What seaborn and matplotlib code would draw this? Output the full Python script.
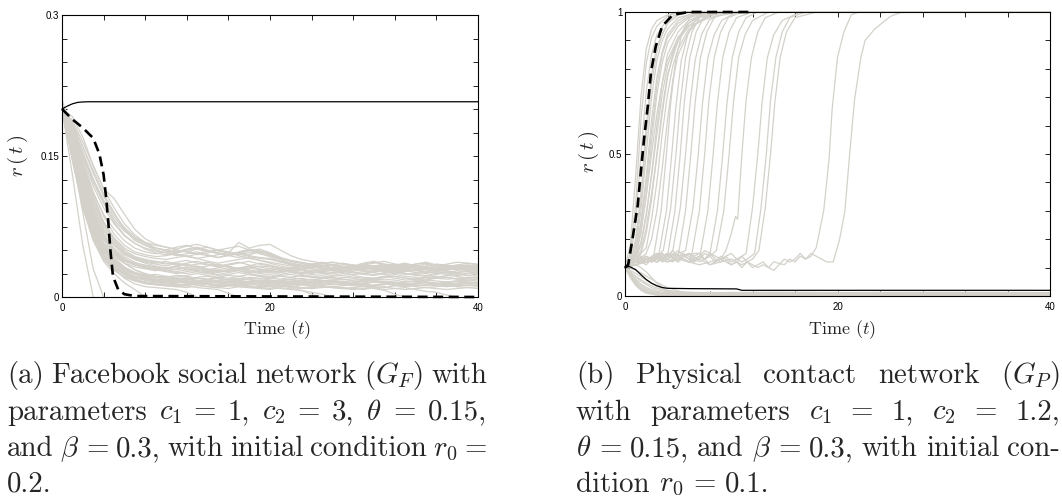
import matplotlib
matplotlib.use('Agg')
import matplotlib.pyplot as plt
import numpy as np
import pandas as pd
import seaborn as sns

GRAY = '#d3d1c9'
W, H = 1062, 497
CAP_SIZE = 20.8

# (a) Facebook network: simulation runs, r(t) in thousandths at t = 0, 1, 2, ... 40
FB_RUNS = [
    [200, 130, 55, 0],
    [200, 150, 90, 30, 0],
    [200, 185, 160, 135, 110, 90, 72, 60, 55, 52, 50, 53, 55, 51, 48, 50, 52, 54, 50, 47,
     45, 40, 35, 33, 34, 36, 33, 31, 32, 35, 37, 34, 32, 33, 35, 36, 34, 31, 30, 32, 33],
    [205, 178, 148, 118, 95, 78, 65, 57, 52, 49, 47, 50, 48, 45, 47, 50, 48, 46, 49, 51,
     47, 42, 38, 36, 33, 31, 30, 32, 34, 31, 29, 30, 32, 35, 33, 30, 28, 29, 31, 30, 28],
    [200, 182, 152, 122, 100, 82, 70, 62, 58, 55, 53, 51, 54, 56, 53, 49, 47, 58, 52, 55,
     56, 50, 44, 40, 38, 36, 37, 35, 33, 34, 36, 38, 35, 33, 31, 30, 33, 35, 37, 36, 34],
    [210, 175, 140, 110, 88, 72, 60, 52, 48, 46, 48, 45, 43, 46, 49, 47, 44, 42, 45, 48,
     44, 40, 36, 34, 33, 31, 29, 28, 30, 32, 31, 29, 27, 28, 30, 32, 30, 28, 26, 27, 29],
    [200, 188, 165, 140, 115, 95, 78, 66, 58, 52, 49, 47, 50, 52, 49, 46, 44, 47, 50, 46,
     43, 38, 34, 33, 35, 37, 34, 32, 33, 31, 30, 32, 34, 36, 33, 31, 32, 34, 31, 29, 30],
    [205, 180, 150, 125, 103, 85, 72, 62, 55, 50, 47, 44, 46, 48, 45, 42, 44, 46, 43, 41,
     40, 37, 35, 33, 31, 32, 34, 33, 30, 29, 31, 33, 35, 33, 31, 29, 30, 32, 34, 32, 30],
    [200, 192, 170, 140, 115, 105, 88, 72, 62, 56, 53, 50, 48, 51, 53, 50, 47, 45, 47, 49,
     46, 42, 39, 37, 35, 33, 34, 36, 34, 32, 30, 31, 33, 35, 34, 32, 30, 31, 33, 34, 32],
    [200, 170, 130, 95, 70, 55, 45, 40, 37, 35, 33, 36, 34, 31, 33, 35, 32, 30, 33, 36,
     34, 31, 29, 30, 32, 30, 28, 27, 29, 31, 33, 31, 29, 27, 28, 30, 29, 27, 26, 28, 27],
    [200, 165, 120, 85, 62, 48, 40, 36, 34, 32, 30, 33, 35, 32, 29, 27, 29, 31, 33, 30,
     28, 27, 29, 30, 28, 26, 25, 27, 29, 28, 26, 24, 25, 27, 29, 27, 25, 26, 28, 27, 25],
    [205, 172, 135, 100, 75, 58, 47, 41, 38, 36, 38, 35, 33, 35, 37, 34, 32, 30, 31, 33,
     32, 30, 31, 33, 35, 33, 30, 31, 33, 36, 38, 35, 32, 33, 35, 37, 34, 32, 34, 36, 35],
    [200, 160, 115, 80, 58, 45, 38, 34, 32, 30, 28, 30, 32, 29, 27, 29, 31, 28, 26, 28,
     30, 29, 27, 25, 27, 29, 31, 28, 26, 25, 27, 29, 30, 28, 26, 25, 27, 26, 24, 25, 26],
    [200, 175, 142, 108, 80, 62, 50, 43, 40, 38, 36, 34, 36, 38, 35, 33, 35, 37, 34, 32,
     30, 29, 31, 33, 30, 28, 29, 31, 30, 28, 27, 29, 31, 33, 31, 29, 28, 30, 32, 31, 30],
    [200, 168, 128, 92, 67, 52, 43, 37, 33, 31, 29, 27, 29, 31, 28, 26, 28, 30, 27, 25,
     24, 26, 28, 26, 24, 23, 25, 27, 26, 24, 23, 25, 27, 25, 23, 22, 24, 26, 25, 23, 22],
    [200, 158, 110, 76, 55, 43, 36, 32, 30, 28, 30, 32, 29, 27, 25, 27, 29, 31, 29, 27,
     26, 28, 30, 28, 26, 27, 29, 31, 34, 32, 29, 27, 28, 30, 28, 26, 27, 29, 32, 34, 33],
    [205, 178, 140, 105, 80, 63, 52, 46, 43, 41, 40, 42, 44, 41, 38, 36, 38, 40, 42, 39,
     36, 33, 31, 30, 32, 34, 31, 29, 31, 33, 32, 30, 28, 30, 33, 35, 32, 30, 29, 31, 32],
    [200, 150, 100, 65, 45, 33, 26, 22, 20, 19, 18, 20, 19, 17, 16, 18, 19, 17, 16, 15,
     17, 18, 16, 15, 14, 16, 17, 15, 14, 15, 16, 15, 14, 13, 15, 16, 14, 13, 14, 15, 14],
    [200, 160, 110, 72, 48, 35, 27, 22, 19, 17, 16, 15, 17, 16, 14, 13, 15, 16, 14, 13,
     12, 14, 15, 13, 12, 13, 14, 13, 12, 11, 13, 14, 12, 11, 12, 13, 12, 11, 12, 13, 12],
    [200, 155, 105, 70, 50, 38, 30, 25, 22, 21, 22, 20, 19, 21, 22, 20, 18, 19, 21, 20,
     18, 17, 19, 20, 18, 17, 18, 19, 17, 16, 18, 19, 18, 16, 17, 18, 17, 16, 17, 18, 17],
    [205, 162, 115, 78, 55, 40, 31, 25, 21, 18, 17, 16, 15, 17, 18, 16, 15, 14, 16, 17,
     15, 14, 13, 15, 16, 14, 13, 14, 15, 14, 12, 13, 15, 14, 13, 12, 14, 15, 13, 12, 13],
    [200, 145, 95, 62, 42, 30, 24, 20, 18, 17, 16, 18, 17, 15, 14, 16, 17, 16, 14, 13,
     15, 16, 14, 13, 15, 17, 16, 14, 13, 14, 16, 15, 13, 12, 14, 15, 14, 12, 13, 15, 14],
    [200, 158, 108, 73, 52, 39, 31, 26, 23, 22, 21, 23, 22, 20, 19, 21, 23, 22, 20, 19,
     20, 22, 21, 19, 18, 20, 21, 19, 18, 19, 20, 22, 20, 18, 19, 21, 20, 19, 20, 21, 20],
    [200, 166, 120, 82, 57, 42, 32, 26, 22, 19, 17, 16, 15, 14, 16, 15, 13, 12, 14, 15,
     13, 12, 11, 13, 14, 12, 11, 12, 13, 12, 11, 10, 12, 13, 11, 10, 11, 12, 11, 10, 11],
    [200, 152, 102, 68, 47, 36, 29, 25, 23, 24, 22, 21, 23, 25, 23, 21, 20, 22, 24, 22,
     20, 19, 21, 23, 22, 20, 19, 21, 20, 18, 19, 21, 22, 20, 19, 18, 20, 21, 19, 18, 19],
    [205, 170, 125, 88, 62, 46, 36, 29, 25, 22, 20, 19, 18, 20, 19, 17, 16, 18, 19, 17,
     16, 15, 17, 18, 16, 15, 16, 17, 15, 14, 16, 17, 16, 14, 15, 16, 15, 14, 15, 16, 15],
    [200, 148, 98, 64, 44, 32, 25, 21, 19, 18, 20, 19, 17, 16, 18, 20, 18, 16, 15, 17,
     18, 16, 15, 17, 19, 18, 16, 15, 16, 18, 17, 15, 14, 16, 17, 16, 14, 15, 17, 16, 15],
    [200, 176, 138, 102, 78, 60, 48, 42, 39, 37, 35, 37, 39, 36, 34, 32, 34, 36, 38, 35,
     33, 31, 30, 32, 30, 28, 30, 32, 29, 27, 28, 30, 32, 31, 29, 27, 29, 31, 30, 28, 29],
    [205, 168, 125, 90, 66, 50, 41, 35, 31, 29, 27, 25, 27, 29, 26, 24, 26, 28, 25, 23,
     22, 24, 26, 24, 22, 21, 23, 25, 23, 21, 20, 22, 24, 22, 21, 19, 21, 23, 22, 20, 21],
    [200, 180, 145, 112, 86, 67, 55, 48, 45, 43, 44, 46, 43, 41, 43, 45, 47, 44, 41, 39,
     37, 35, 33, 32, 34, 33, 31, 30, 32, 34, 33, 31, 30, 31, 33, 32, 30, 29, 31, 33, 32],
    [200, 162, 112, 75, 52, 39, 31, 26, 23, 21, 20, 19, 21, 20, 18, 17, 19, 20, 18, 17,
     16, 18, 19, 17, 16, 17, 18, 16, 15, 17, 18, 16, 15, 16, 17, 15, 14, 16, 17, 15, 16],
    [200, 172, 133, 97, 72, 56, 46, 40, 36, 33, 31, 29, 31, 33, 30, 28, 27, 29, 31, 29,
     27, 26, 28, 29, 27, 25, 26, 28, 27, 25, 24, 26, 27, 25, 24, 23, 25, 26, 24, 23, 24],
    [205, 183, 155, 126, 100, 80, 66, 57, 51, 47, 45, 47, 49, 46, 44, 42, 45, 47, 44, 42,
     41, 38, 36, 34, 32, 33, 35, 32, 30, 31, 33, 34, 32, 30, 29, 31, 33, 32, 30, 29, 31],
    [200, 154, 104, 70, 49, 37, 29, 24, 21, 19, 18, 17, 19, 18, 16, 15, 17, 18, 16, 15,
     14, 16, 17, 15, 14, 13, 15, 16, 14, 13, 12, 14, 15, 13, 12, 13, 14, 12, 11, 13, 12],
    [200, 166, 124, 88, 64, 49, 40, 35, 32, 30, 31, 33, 30, 28, 29, 31, 33, 30, 28, 26,
     28, 30, 28, 26, 25, 27, 28, 26, 24, 25, 27, 28, 26, 24, 25, 27, 26, 24, 23, 25, 26],
    [200, 146, 96, 63, 43, 31, 24, 19, 16, 14, 13, 12, 14, 13, 11, 10, 12, 13, 11, 10,
     9, 11, 12, 10, 9, 10, 11, 10, 9, 8, 10, 11, 9, 8, 9, 10, 9, 8, 9, 10, 9],
    [205, 186, 160, 132, 107, 88, 74, 64, 57, 52, 50, 48, 51, 53, 50, 47, 45, 48, 51, 49,
     46, 41, 38, 36, 34, 35, 37, 35, 32, 31, 33, 35, 34, 32, 31, 33, 35, 34, 32, 31, 33],
    [200, 160, 118, 84, 61, 47, 39, 34, 31, 29, 28, 26, 25, 27, 25, 23, 24, 26, 24, 22,
     21, 23, 24, 22, 21, 20, 22, 23, 21, 20, 19, 21, 22, 20, 19, 21, 22, 21, 19, 20, 21],
    [200, 150, 95, 60, 38, 25, 15, 8, 0],
    [200, 158, 105, 68, 45, 30, 20, 14, 11, 10, 9, 8, 5, 0],
    [200, 162, 112, 75, 50, 34, 24, 18, 15, 13, 12, 11, 12, 10, 9, 8, 4, 0],
    [200, 172, 128, 90, 64, 47, 36, 29, 24, 21, 19, 18, 16, 15, 14, 13, 12, 11, 10, 12,
     11, 9, 8, 7, 5, 3, 0],
    [200, 155, 100, 64, 42, 29, 21, 17, 14, 13, 12, 11, 10, 12, 11, 10, 9, 11, 10, 9,
     8, 10, 9, 7, 3, 0],
    [200, 165, 118, 80, 55, 38, 28, 22, 18, 16, 15, 14, 13, 15, 14, 12, 13, 14, 12, 11,
     12, 13, 11, 10, 11, 12, 10, 9, 10, 11, 9, 7, 3, 0],
    [200, 148, 98, 62, 40, 28, 22, 18, 16, 15, 14, 13, 12, 14, 13, 11, 12, 13, 11, 10,
     11, 12, 10, 9, 10, 11, 10, 9, 8, 9, 10, 8, 9, 10, 8, 6, 5, 2, 0],
]
FB_DASH_T = [0, 1, 2, 3, 3.6, 4.0, 4.25, 4.45, 4.65, 4.9, 5.4, 6, 7, 40]
FB_DASH_R = [0.200, 0.189, 0.180, 0.169, 0.152, 0.130, 0.105, 0.080, 0.050, 0.022, 0.008, 0.003, 0.001, 0.0]
FB_SOLID_T = [0, 0.5, 1, 1.5, 2, 2.5, 40]
FB_SOLID_R = [0.200, 0.203, 0.2055, 0.207, 0.2075, 0.2077, 0.2077]

# (b) physical contact network: simulation runs as (t, r) knots
PC_EARLY = [
    [(0, .10), (.5, .18), (1, .42), (1.5, .70), (2, .87), (2.5, .94), (3, .97), (4, .99), (5, 1), (40, 1)],
    [(0, .10), (.5, .15), (1, .32), (1.5, .62), (2, .82), (2.5, .91), (3, .95), (4, .985), (5, 1), (40, 1)],
    [(0, .10), (.5, .13), (1, .26), (1.5, .50), (2, .72), (2.5, .85), (3, .92), (4, .975), (5, .995), (6, 1), (40, 1)],
    [(0, .10), (.5, .12), (1, .20), (1.5, .36), (2, .60), (2.5, .78), (3, .88), (4, .96), (5, .99), (6, 1), (40, 1)],
    [(0, .10), (.5, .12), (1, .19), (1.5, .33), (2, .56), (2.5, .75), (3, .86), (3.5, .92), (4, .96), (5, .99), (6, 1), (40, 1)],
    [(0, .10), (.5, .11), (1, .17), (1.5, .30), (2, .50), (2.5, .70), (3, .83), (3.5, .90), (4, .94), (5, .98), (7, 1), (40, 1)],
    [(0, .10), (.5, .12), (1, .16), (1.5, .26), (2, .42), (2.5, .62), (3, .77), (3.5, .86), (4, .92), (5, .97), (6, .99), (7, 1), (40, 1)],
    [(0, .10), (.5, .11), (1, .15), (1.5, .25), (2, .40), (2.5, .58), (3, .74), (3.5, .85), (4, .91), (5, .96), (6, .985), (7.5, 1), (40, 1)],
    [(0, .10), (.5, .11), (1, .14), (1.5, .22), (2, .36), (2.5, .54), (3, .71), (3.5, .82), (4, .89), (5, .95), (6, .98), (8, 1), (40, 1)],
    [(0, .10), (.5, .12), (1, .15), (1.5, .23), (2, .35), (2.5, .50), (3, .64), (3.5, .75), (4, .83), (5, .91), (6, .95), (8, .98), (10, .995), (12, 1), (40, 1)],
    [(0, .10), (.5, .11), (1, .13), (1.5, .18), (2, .28), (2.5, .43), (3, .60), (3.5, .75), (4, .85), (5, .93), (6, .97), (8, 1), (40, 1)],
    [(0, .10), (.5, .12), (1, .14), (1.5, .19), (2, .29), (2.5, .42), (3, .57), (3.5, .71), (4, .81), (5, .91), (6, .96), (7, .985), (8.5, 1), (40, 1)],
    [(0, .10), (1, .12), (1.5, .15), (2, .22), (2.5, .34), (3, .50), (3.5, .66), (4, .78), (5, .90), (6, .96), (7, .99), (9, 1), (40, 1)],
    [(0, .10), (1, .13), (1.5, .16), (2, .24), (2.5, .36), (3, .49), (3.5, .64), (4, .77), (4.5, .85), (5, .90), (6, .95), (7, .98), (9, 1), (40, 1)],
    [(0, .10), (1, .13), (2, .17), (2.5, .27), (3, .40), (3.5, .57), (4, .71), (4.5, .81), (5, .87), (6, .94), (8, .99), (10, 1), (40, 1)],
    [(0, .10), (1, .12), (2, .15), (2.5, .20), (3, .30), (3.5, .45), (4, .62), (4.5, .76), (5, .85), (6, .93), (7, .97), (9, 1), (40, 1)],
]
PC_LATE = [
    [(0, .10), (.5, .11), (1, .12), (1.5, .13), (2, .12), (2.7, .14), (3.4, .30), (3.9, .50), (4.3, .68), (4.8, .84), (5.4, .93), (6.1, .98), (7, 1), (40, 1)],
    [(0, .10), (.5, .12), (1, .13), (1.5, .12), (2, .14), (2.5, .13), (3.2, .15), (3.9, .30), (4.4, .50), (4.8, .67), (5.3, .83), (5.9, .92), (6.6, .97), (7.5, 1), (40, 1)],
    [(0, .10), (.5, .11), (1, .12), (1.5, .14), (2, .13), (2.5, .12), (3, .14), (3.6, .16), (4.3, .31), (4.8, .50), (5.2, .68), (5.7, .84), (6.3, .93), (7, .98), (8, 1), (40, 1)],
    [(0, .10), (1, .11), (1.5, .13), (2, .12), (2.5, .14), (3, .15), (3.5, .13), (4, .14), (4.7, .30), (5.2, .50), (5.6, .69), (6.1, .84), (6.7, .93), (7.4, .98), (8.3, 1), (40, 1)],
    [(0, .10), (1, .12), (1.5, .14), (2, .13), (2.5, .12), (3, .13), (3.5, .15), (4, .14), (4.5, .16), (5.2, .31), (5.7, .50), (6.1, .67), (6.6, .83), (7.2, .92), (7.9, .97), (9, 1), (40, 1)],
    [(0, .10), (1, .13), (1.5, .12), (2, .11), (2.5, .13), (3, .14), (3.5, .12), (4, .13), (4.5, .15), (5, .14), (5.7, .30), (6.2, .50), (6.6, .68), (7.1, .84), (7.7, .93), (8.4, .98), (9.5, 1), (40, 1)],
    [(0, .10), (1, .12), (2, .14), (2.5, .13), (3, .15), (3.5, .14), (4, .12), (4.5, .13), (5, .15), (5.7, .16), (6.4, .31), (6.9, .50), (7.3, .68), (7.8, .84), (8.4, .92), (9.1, .97), (10.5, 1), (40, 1)],
    [(0, .10), (1, .11), (2, .13), (2.5, .12), (3, .14), (3.5, .13), (4, .15), (4.5, .14), (5, .12), (5.5, .14), (6.3, .15), (7, .30), (7.5, .50), (7.9, .69), (8.4, .84), (9, .93), (9.7, .98), (11, 1), (40, 1)],
    [(0, .10), (1, .12), (2, .12), (3, .14), (3.5, .15), (4, .13), (4.5, .14), (5, .16), (5.5, .14), (6, .13), (6.5, .15), (7.1, .15), (7.8, .30), (8.3, .50), (8.7, .68), (9.2, .84), (9.8, .93), (10.5, .98), (12, 1), (40, 1)],
    [(0, .10), (1, .11), (2, .13), (3, .12), (3.5, .14), (4, .15), (4.5, .13), (5, .12), (5.5, .14), (6, .15), (6.5, .13), (7, .14), (7.5, .16), (8, .15), (8.7, .30), (9.2, .50), (9.6, .68), (10.1, .84), (10.7, .93), (11.4, .98), (12.5, 1), (40, 1)],
    [(0, .10), (1, .12), (2, .14), (2.5, .13), (3, .12), (4, .14), (4.5, .16), (5, .14), (5.5, .13), (6, .12), (6.5, .14), (7, .15), (7.5, .13), (8, .14), (8.6, .16), (9.3, .30), (9.8, .50), (10.2, .68), (10.7, .84), (11.3, .92), (12, .97), (13.5, 1), (40, 1)],
    [(0, .10), (1, .11), (2, .12), (3, .14), (4, .13), (4.5, .12), (5, .14), (5.5, .15), (6, .13), (6.5, .12), (7, .14), (7.5, .13), (8, .15), (8.5, .14), (9, .13), (9.5, .16), (10, .22), (10.4, .28), (10.6, .27), (11, .50), (11.4, .69), (11.9, .84), (12.5, .93), (13.2, .98), (14.5, 1), (40, 1)],
    [(0, .10), (1, .12), (2, .13), (3, .12), (4, .14), (5, .13), (5.5, .15), (6, .14), (6.5, .12), (7, .13), (7.5, .15), (8, .14), (8.5, .12), (9, .13), (9.5, .14), (10, .12), (10.5, .13), (11, .14), (11.4, .15), (12, .31), (12.5, .50), (12.9, .68), (13.4, .84), (14, .92), (14.8, .97), (16.5, 1), (40, 1)],
    [(0, .10), (1, .11), (2, .13), (3, .14), (4, .12), (5, .13), (6, .15), (6.5, .14), (7, .12), (7.5, .13), (8, .15), (8.5, .13), (9, .12), (9.5, .14), (10, .15), (10.5, .13), (11, .12), (11.5, .13), (12.2, .15), (12.8, .31), (13.3, .50), (13.7, .69), (14.2, .84), (14.8, .93), (15.5, .98), (17, 1), (40, 1)],
    [(0, .10), (1, .12), (2, .12), (3, .13), (4, .15), (5, .14), (6, .12), (7, .14), (7.5, .13), (8, .11), (8.5, .12), (9, .14), (9.5, .13), (10, .11), (10.5, .12), (11, .14), (11.5, .12), (12, .13), (12.6, .16), (13.2, .31), (13.7, .50), (14.1, .68), (14.6, .84), (15.2, .93), (16, .98), (18, 1), (40, 1)],
    [(0, .10), (1, .12), (2, .13), (3, .12), (4, .14), (5, .13), (6, .12), (7, .13), (8, .11), (9, .12), (10, .13), (10.5, .12), (11, .11), (11.5, .12), (12, .10), (12.5, .11), (13, .12), (13.5, .10), (14, .09), (14.5, .11), (15, .13), (15.5, .12), (16, .13), (16.5, .15), (17, .13), (17.5, .14), (18, .17), (18.7, .30), (19.2, .48), (19.5, .66), (20, .84), (20.6, .93), (21.3, .99), (22, 1), (40, 1)],
    [(0, .10), (1, .11), (2, .12), (3, .13), (4, .12), (5, .14), (6, .12), (7, .11), (8, .12), (9, .13), (10, .11), (10.5, .12), (11, .10), (11.5, .12), (12, .11), (12.5, .10), (13, .11), (13.5, .10), (14, .12), (15, .11), (15.5, .13), (16, .12), (16.5, .14), (17, .13), (17.5, .15), (18, .14), (18.5, .13), (19, .12), (19.6, .12), (20.2, .20), (20.7, .30), (21.1, .48), (21.6, .69), (22.2, .84), (22.6, .90), (23.5, .94), (25, .985), (26.1, 1), (40, 1)],
]
PC_DIE = [
    [(0, .10), (.5, .075), (1, .050), (1.5, .032), (2, .020), (2.5, .012), (3, .007), (4, .004), (8, .003), (15, .002), (25, .002), (40, .001)],
    [(0, .10), (.5, .080), (1, .060), (1.5, .042), (2, .030), (3, .016), (4, .010), (6, .008), (10, .006), (20, .005), (30, .004), (40, .004)],
    [(0, .10), (.5, .070), (1, .042), (1.5, .025), (2, .014), (3, .005), (4, .002), (40, 0)],
    [(0, .10), (.5, .085), (1, .068), (1.5, .052), (2, .040), (2.5, .030), (3, .022), (4, .014), (6, .011), (12, .010), (25, .009), (40, .008)],
    [(0, .10), (.5, .065), (1, .038), (1.5, .020), (2, .010), (3, .003), (40, 0)],
    [(0, .10), (.5, .090), (1, .080), (1.5, .068), (2, .055), (2.5, .045), (3, .035), (3.5, .024), (4, .016), (5, .012), (8, .012), (14, .013), (20, .012), (30, .013), (40, .012)],
    [(0, .10), (.5, .078), (1, .055), (2, .025), (3, .012), (4, .008), (7, .007), (12, .006), (18, .008), (25, .007), (33, .006), (40, .006)],
    [(0, .10), (.5, .072), (1, .047), (2, .018), (3, .009), (5, .005), (10, .004), (40, .003)],
    [(0, .10), (1, .070), (2, .045), (3, .028), (4, .020), (5, .015), (7, .012), (10, .010), (16, .011), (24, .010), (32, .011), (40, .010)],
    [(0, .10), (.5, .068), (1, .040), (2, .012), (3, .004), (5, .002), (40, .002)],
    [(0, .10), (.5, .105), (1, .110), (1.5, .100), (2, .085), (2.5, .065), (3, .045), (3.5, .030), (4, .018), (5, .010), (6, .006), (10, .004), (40, .003)],
    [(0, .10), (.5, .098), (1, .090), (1.5, .082), (2, .070), (3, .048), (4, .030), (5, .018), (6, .010), (8, .006), (40, .005)],
]
PC_DASH_T = [0, 0.3, 0.7, 1.2, 1.5, 1.8, 2.15, 2.45, 2.9, 3.5, 4.5, 6, 12]
PC_DASH_R = [0.10, 0.11, 0.20, 0.32, 0.44, 0.555, 0.67, 0.79, 0.88, 0.95, 0.99, 1.0, 1.0]
PC_SOLID_T = [0, 0.4, 1, 1.5, 2, 2.5, 3, 3.5, 4, 6, 10.5, 11, 40]
PC_SOLID_R = [0.100, 0.104, 0.093, 0.075, 0.058, 0.045, 0.036, 0.030, 0.027, 0.026, 0.025, 0.020, 0.020]

CAPTION_A = [
    ["(a)", "Facebook", "social", "network", "($G_F$)", "with"],
    ["parameters", "$c_1$", "=", "1,", "$c_2$", "=", "3,", r"$\theta$", "=", "0.15,"],
    ["and", r"$\beta$", "=", "0.3,", "with", "initial", "condition", "$r_0$", "="],
    ["0.2."],
]
CAPTION_B = [
    ["(b)", "Physical", "contact", "network", "($G_P$)"],
    ["with", "parameters", "$c_1$", "=", "1,", "$c_2$", "=", "1.2,"],
    [r"$\theta$", "=", "0.15,", "and", r"$\beta$", "=", "0.3,", "with", "initial", "con-"],
    ["dition", "$r_0$", "=", "0.1."],
]


def runs_frame(runs):
    rows = []
    for i, run in enumerate(runs):
        for t, r in run:
            rows.append((i, t, r))
    return pd.DataFrame(rows, columns=['run', 't', 'r'])


def style_axes(ax, ymax, ystep, ylab_every):
    ax.set_xlim(0, 40)
    ax.set_ylim(0, ymax)
    xt = np.arange(0, 41, 4)
    ax.set_xticks(xt)
    ax.set_xticklabels([str(v) if v % 20 == 0 else '' for v in xt])
    yt = np.arange(0, ymax + ystep / 2, ystep)
    ax.set_yticks(yt)
    ax.set_yticklabels(['%g' % round(v, 3) if i % ylab_every == 0 else '' for i, v in enumerate(yt)])
    for s in ax.spines.values():
        s.set_visible(True)
        s.set_linewidth(0.8)
        s.set_color('black')
    ax.tick_params(direction='in', length=3.5, width=0.6, top=True, right=True,
                   labelsize=7, colors='black')
    ax.tick_params(axis='y', pad=2)
    ax.tick_params(axis='x', pad=4)
    ax.set_facecolor('white')


def set_labels(ax, xlx, xly, ylx, yly):
    ax.set_xlabel('Time $(t)$', fontsize=13, family='cmr10')
    ax.xaxis.set_label_coords(xlx, xly)
    ax.xaxis.label.set_va('center')
    ax.set_ylabel(r'$r\,(\,t\,)$', fontsize=15)
    ax.yaxis.set_label_coords(ylx, yly)
    ax.yaxis.label.set_va('center')


def put_caption(fig, renderer, lines, x0, width, baselines):
    space = 0.333 * CAP_SIZE * fig.dpi / 72.0
    for k, (tokens, base) in enumerate(zip(lines, baselines)):
        texts = [fig.text(0, 0, tok, fontsize=CAP_SIZE, family='cmr10',
                          ha='left', va='baseline') for tok in tokens]
        widths = [t.get_window_extent(renderer).width for t in texts]
        last = k == len(lines) - 1
        if last or len(tokens) == 1:
            gap = space
        else:
            gap = max((width - sum(widths)) / (len(tokens) - 1), 0.5 * space)
        x = x0
        for t, w in zip(texts, widths):
            t.set_position((x / W, 1 - base / H))
            x += w + gap


sns.set_style('ticks')
plt.rcParams['font.family'] = ['Liberation Sans', 'DejaVu Sans']
plt.rcParams['mathtext.fontset'] = 'cm'

fig = plt.figure(figsize=(W / 100, H / 100), dpi=100)
ax_a = fig.add_axes([62 / W, 1 - 297 / H, 416 / W, 282 / H])
ax_b = fig.add_axes([625 / W, 1 - 296 / H, 425 / W, 284 / H])

# panel (a)
fb = runs_frame([[(t, v / 1000.0) for t, v in enumerate(run[:41])] for run in FB_RUNS])
sns.lineplot(data=fb, x='t', y='r', units='run', estimator=None, color=GRAY,
             linewidth=0.9, ax=ax_a, legend=False)
sns.lineplot(x=FB_SOLID_T, y=FB_SOLID_R, estimator=None, color='black',
             linewidth=0.9, ax=ax_a, clip_on=False)
sns.lineplot(x=FB_DASH_T, y=FB_DASH_R, estimator=None, color='black',
             linewidth=1.9, linestyle=(0, (3.8, 2.1)), ax=ax_a, clip_on=False)
style_axes(ax_a, 0.3, 0.025, 6)
set_labels(ax_a, 0.517, -0.116, -0.106, 0.5)

# panel (b)
pc = runs_frame(PC_DIE + PC_EARLY + PC_LATE)
sns.lineplot(data=pc, x='t', y='r', units='run', estimator=None, color=GRAY,
             linewidth=0.9, ax=ax_b, legend=False, clip_on=False)
sns.lineplot(x=PC_SOLID_T, y=PC_SOLID_R, estimator=None, color='black',
             linewidth=0.9, ax=ax_b, clip_on=False)
sns.lineplot(x=PC_DASH_T, y=PC_DASH_R, estimator=None, color='black',
             linewidth=1.9, linestyle=(0, (3.8, 2.1)), ax=ax_b, clip_on=False)
style_axes(ax_b, 1.0, 0.1, 5)
set_labels(ax_b, 0.511, -0.118, -0.085, 0.507)

renderer = fig.canvas.get_renderer()
baselines = [383.0, 419.5, 456.0, 491.5]
put_caption(fig, renderer, CAPTION_A, 7, 480, baselines)
put_caption(fig, renderer, CAPTION_B, 576, 484, baselines)

fig.savefig('out.png', dpi=100)
